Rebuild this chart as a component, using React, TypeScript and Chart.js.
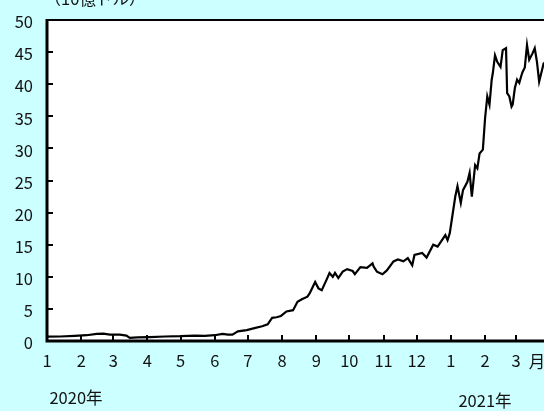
import React, { useEffect, useRef } from "react";
import { Chart, registerables } from "chart.js";

Chart.register(...registerables);

// ---- data ----
const dates = [
  "2020-01-01", "2020-01-13", "2020-01-26", "2020-02-06", "2020-02-15", "2020-02-21", "2020-02-27",
  "2020-03-07", "2020-03-13", "2020-03-16", "2020-03-23", "2020-04-03", "2020-04-17", "2020-05-01",
  "2020-05-14", "2020-05-23", "2020-06-01", "2020-06-08", "2020-06-13", "2020-06-17", "2020-06-22",
  "2020-06-30", "2020-07-07", "2020-07-14", "2020-07-19", "2020-07-23", "2020-07-27", "2020-07-31",
  "2020-08-05", "2020-08-11", "2020-08-15", "2020-08-19", "2020-08-24", "2020-08-26", "2020-08-31",
  "2020-09-03", "2020-09-06", "2020-09-11", "2020-09-13", "2020-09-16", "2020-09-18", "2020-09-21",
  "2020-09-25", "2020-09-29", "2020-10-04", "2020-10-06", "2020-10-11", "2020-10-17", "2020-10-22",
  "2020-10-23", "2020-10-26", "2020-10-31", "2020-11-04", "2020-11-10", "2020-11-14", "2020-11-19",
  "2020-11-23", "2020-11-27", "2020-11-29", "2020-12-06", "2020-12-10", "2020-12-16", "2020-12-20",
  "2020-12-27", "2020-12-29", "2020-12-31", "2021-01-05", "2021-01-07", "2021-01-10", "2021-01-12",
  "2021-01-16", "2021-01-18", "2021-01-20", "2021-01-23", "2021-01-25", "2021-01-27", "2021-01-30",
  "2021-02-01", "2021-02-03", "2021-02-05", "2021-02-07", "2021-02-08", "2021-02-10", "2021-02-12",
  "2021-02-15", "2021-02-17", "2021-02-20", "2021-02-21", "2021-02-23", "2021-02-25", "2021-02-26",
  "2021-02-28", "2021-03-02", "2021-03-04", "2021-03-06", "2021-03-07", "2021-03-09", "2021-03-11",
  "2021-03-13", "2021-03-16", "2021-03-18", "2021-03-20", "2021-03-22", "2021-03-25", "2021-03-26",
  "2021-03-28",
];

const values = [
  0.67, 0.7, 0.8, 0.9, 1.1, 1.15, 1.0,
  1.0, 0.85, 0.5, 0.55, 0.6, 0.7, 0.75,
  0.85, 0.8, 0.9, 1.1, 1.0, 1.0, 1.5,
  1.7, 2.0, 2.3, 2.6, 3.6, 3.7, 3.9,
  4.6, 4.8, 6.1, 6.5, 6.9, 7.4, 9.2,
  8.2, 7.9, 9.8, 10.6, 10.0, 10.6, 9.8,
  10.8, 11.2, 10.9, 10.4, 11.5, 11.4, 12.1,
  11.6, 10.8, 10.4, 11.0, 12.4, 12.7, 12.4,
  12.9, 11.8, 13.4, 13.7, 13.0, 15.0, 14.7,
  16.5, 15.7, 16.8, 22.5, 24.1, 21.5, 23.5,
  24.8, 26.2, 22.5, 27.4, 26.9, 29.2, 29.8,
  34.7, 38.1, 36.8, 40.7, 41.7, 44.5, 43.5,
  42.7, 45.3, 45.6, 38.6, 38.1, 36.5, 36.8,
  39.4, 40.7, 40.2, 41.4, 41.9, 42.6, 46.1,
  43.8, 44.8, 45.6, 43.5, 40.4, 42.5, 43.2,
  43.5,
];

const monthTickDates = [
  "2020-01-01", "2020-02-01", "2020-03-01", "2020-04-01", "2020-05-01", "2020-06-01", "2020-07-01",
  "2020-08-01", "2020-09-01", "2020-10-01", "2020-11-01", "2020-12-01", "2021-01-01", "2021-02-01",
  "2021-03-01",
];
const monthTickLabels = ["1", "2", "3", "4", "5", "6", "7", "8", "9", "10", "11", "12", "1", "2", "3"];
const yTickValues = [0, 5, 10, 15, 20, 25, 30, 35, 40, 45, 50];

const unitLabel = "（10億ドル）";
const monthSuffix = "月";
const yearLabels = ["2020年", "2021年"];

const START = Date.UTC(2020, 0, 1);
const dayOf = (s: string) => {
  const [y, m, d] = s.split("-").map(Number);
  return Math.round((Date.UTC(y, m - 1, d) - START) / 86400000);
};

const FONT_FAMILY = '"Noto Sans CJK JP", sans-serif';
const FONT_SIZE = 16.5;
const TEXT_COLOR = "#111";

export default function App() {
  const ref = useRef<HTMLCanvasElement | null>(null);

  useEffect(() => {
    if (!ref.current) return;
    const tickDays = monthTickDates.map(dayOf);
    const labelFor = (v: number) => {
      const i = tickDays.indexOf(Math.round(v));
      return i >= 0 ? monthTickLabels[i] : "";
    };

    const decor = {
      id: "decor",
      beforeDatasetsDraw(chart: any) {
        const { ctx, chartArea: a } = chart;
        ctx.save();
        ctx.fillStyle = "#ffffff";
        ctx.fillRect(a.left, a.top, a.right - a.left, a.bottom - a.top);
        ctx.restore();
      },
      afterDraw(chart: any) {
        const { ctx, chartArea: a, scales } = chart;
        ctx.save();
        ctx.strokeStyle = "#000";
        // inward ticks
        ctx.lineWidth = 2;
        ctx.beginPath();
        for (const v of yTickValues) {
          if (v === 0 || v === 50) continue;
          const y = Math.round(scales.y.getPixelForValue(v));
          ctx.moveTo(a.left, y);
          ctx.lineTo(a.left + 6, y);
        }
        for (const d of tickDays) {
          if (d === 0) continue;
          const x = Math.round(scales.x.getPixelForValue(d));
          ctx.moveTo(x, a.bottom);
          ctx.lineTo(x, a.bottom - 6);
        }
        ctx.stroke();
        // frame
        ctx.lineWidth = 2;
        ctx.beginPath();
        ctx.moveTo(a.left, a.top);
        ctx.lineTo(a.right + 2, a.top);
        ctx.stroke();
        ctx.lineWidth = 3;
        ctx.beginPath();
        ctx.moveTo(a.left, a.top - 1);
        ctx.lineTo(a.left, a.bottom);
        ctx.lineTo(a.right + 2, a.bottom);
        ctx.stroke();
        // texts
        ctx.fillStyle = TEXT_COLOR;
        ctx.font = `${FONT_SIZE}px ${FONT_FAMILY}`;
        ctx.textBaseline = "middle";
        ctx.textAlign = "center";
        ctx.fillText(unitLabel, 95, -1);
        ctx.fillText(monthSuffix, 537, 362);
        ctx.fillText(yearLabels[0], 76, 398);
        ctx.fillText(yearLabels[1], 485, 401);
        ctx.restore();
      },
    };

    const chart = new Chart(ref.current, {
      type: "line",
      data: {
        datasets: [
          {
            data: dates.map((d, i) => ({ x: dayOf(d), y: values[i] })),
            borderColor: "#000",
            borderWidth: 2.2,
            pointRadius: 0,
            tension: 0,
            fill: false,
          },
        ],
      },
      options: {
        responsive: false,
        maintainAspectRatio: false,
        animation: false,
        layout: { padding: { top: 20, left: 0, right: 0, bottom: 0 } },
        plugins: {
          legend: { display: false },
          tooltip: { enabled: false },
          title: { display: false },
        },
        scales: {
          x: {
            type: "linear",
            min: 0,
            max: 450.4,
            grid: { display: false, drawTicks: false },
            border: { display: false },
            afterBuildTicks: (s: any) => {
              s.ticks = tickDays.map((v) => ({ value: v }));
            },
            afterFit: (s: any) => {
              s.height = 70;
              s.paddingLeft = 0;
              s.paddingRight = 0;
            },
            ticks: {
              autoSkip: false,
              maxRotation: 0,
              minRotation: 0,
              padding: 10,
              color: TEXT_COLOR,
              font: { family: FONT_FAMILY, size: FONT_SIZE },
              callback: (v: any) => labelFor(Number(v)),
            },
          },
          y: {
            type: "linear",
            min: 0,
            max: 50,
            grid: { display: false, drawTicks: false },
            border: { display: false },
            afterBuildTicks: (s: any) => {
              s.ticks = yTickValues.map((v) => ({ value: v }));
            },
            afterFit: (s: any) => {
              s.width = 47;
              s.paddingTop = 0;
              s.paddingBottom = 0;
            },
            ticks: {
              padding: 14,
              labelOffset: 2,
              color: TEXT_COLOR,
              font: { family: FONT_FAMILY, size: FONT_SIZE },
              callback: (v: any) => String(v),
            },
          },
        },
      },
      plugins: [decor],
    });
    return () => chart.destroy();
  }, []);

  return (
    <div
      style={{
        position: "fixed",
        left: 0,
        top: 0,
        width: 544,
        height: 411,
        overflow: "hidden",
        background: "#CCFFFF",
      }}
    >
      <canvas ref={ref} width={544} height={411} style={{ display: "block", width: 544, height: 411 }} />
    </div>
  );
}
